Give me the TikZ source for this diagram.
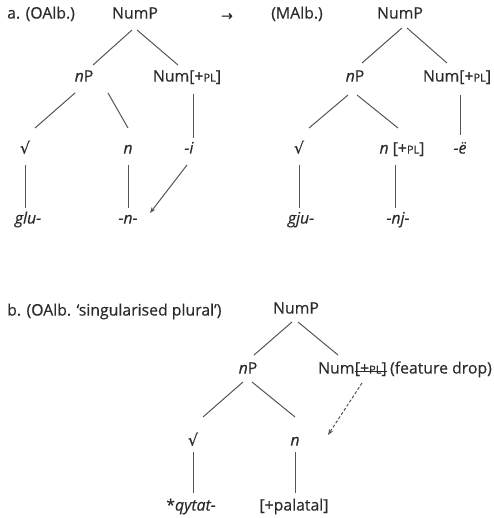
\documentclass[tikz,border=0pt]{standalone}
\usepackage{fontspec}
\setmainfont{Open Sans}[FakeBold=0.35]
\newfontfamily\symf{DejaVu Sans}[FakeBold=0.3]
\usetikzlibrary{calc,arrows.meta}
\definecolor{txt}{HTML}{2B2B2B}
\definecolor{ln}{HTML}{555555}
\newcommand{\plsc}{{\fontsize{11}{10}\selectfont PL}}
\newcommand{\rootsym}{{\symf √}}
\begin{document}
\begin{tikzpicture}[x=1pt,y=-1pt,
  lbl/.style={inner sep=0pt, text=txt, font=\fontsize{15.8}{17}\selectfont, text height=0.71em, text depth=0pt, anchor=center},
  edge/.style={draw=ln, line width=1pt},
  movearrow/.style={draw=ln, line width=1pt, -{Stealth[length=6pt,width=4.5pt]}},
  droparrow/.style={movearrow, dash pattern=on 3pt off 2pt},
  strike/.style={draw=txt, line width=0.8pt}]
\path[use as bounding box, fill=white] (0,0) rectangle (493,518);

% ---- a. (OAlb.)
\node[lbl, anchor=west] (labA) at (7,15) {a. (OAlb.)};
\node[lbl] (numpA) at (135,15) {NumP};
\node[lbl, font=\symf\fontsize{14}{14}\selectfont] (arrA) at (227,17) {→};
\node[lbl] (npA) at (84,78) {\textit{n}P};
\node[lbl] (numA) at (187,78) {Num[+\plsc]};
\node[lbl] (rootA) at (25,150) {\rootsym};
\node[lbl] (nA) at (128,150) {\textit{n}};
\node[lbl] (iA) at (189,150) {\textit{-i}};
\node[lbl] (gluA) at (28,220) {\textit{glu-}};
\node[lbl] (nnA) at (128,220) {\textit{-n-}};

\draw[edge] ($(numpA)+(-3,15)$) -- ($(npA)+(9,-13)$);
\draw[edge] ($(numpA)+(2,15)$) -- ($(numA)+(-9,-13)$);
\draw[edge] ($(npA)+(-9,15)$) -- ($(rootA)+(10,-22)$);
\draw[edge] ($(npA)+(24,15)$) -- ($(nA)+(0,-22)$);
\draw[edge] ($(numA)+(6,16)$) -- ($(iA)+(4,-12)$);
\draw[edge] ($(rootA)+(0,15)$) -- ($(gluA)+(-3,-12)$);
\draw[edge] ($(nA)+(0,15)$) -- ($(nnA)+(0,-12)$);
\draw[movearrow] ($(iA)+(-2,15)$) -- ($(nnA)+(22,-7)$);

% ---- (MAlb.)
\node[lbl] (labM) at (297,15) {(MAlb.)};
\node[lbl] (numpM) at (400,15) {NumP};
\node[lbl] (npM) at (355,78) {\textit{n}P};
\node[lbl] (numM) at (457,78) {Num[+\plsc]};
\node[lbl] (rootM) at (299,150) {\rootsym};
\node[lbl] (nM) at (402,150) {\textit{n} [+\plsc]};
\node[lbl] (eM) at (460,150) {\textit{-ë}};
\node[lbl] (gjuM) at (301,220) {\textit{gju-}};
\node[lbl] (njM) at (398,220) {\textit{-nj-}};

\draw[edge] ($(numpM)+(2,13)$) -- ($(npM)+(7,-15)$);
\draw[edge] ($(numpM)+(7,13)$) -- ($(numM)+(-10,-15)$);
\draw[edge] ($(npM)+(-7,17)$) -- ($(rootM)+(10,-22)$);
\draw[edge] ($(npM)+(2,17)$) -- ($(nM)+(-4,-22)$);
\draw[edge] ($(numM)+(3,17)$) -- ($(eM)+(0,-15)$);
\draw[edge] ($(rootM)+(0,15)$) -- ($(gjuM)+(-2,-12)$);
\draw[edge] ($(nM)+(-7,15)$) -- ($(njM)+(-3,-12)$);

% ---- b. (OAlb. 'singularised plural')
\node[lbl, anchor=west] (labB) at (7,312) {b. (OAlb. ‘singularised plural’)};
\node[lbl] (numpB) at (296,310) {NumP};
\node[lbl] (npB) at (248,370) {\textit{n}P};
\node[lbl, anchor=west] (numB) at (318,370) {Num};
\node[lbl, anchor=west] (strB) at (numB.east) {[+\plsc]};
\node[lbl, anchor=west] (dropB) at ([xshift=3pt]strB.east) {(feature drop)};
\node[lbl] (rootB) at (193,442) {\rootsym};
\node[lbl] (nB) at (295,442) {\textit{n}};
\node[lbl] (qB) at (191,507) {*\textit{qytat-}};
\node[lbl] (palB) at (294,507) {[+palatal]};
\draw[strike] ($(strB.west)+(0,1)$) -- ($(strB.east)+(0,1)$);

\draw[edge] ($(numpB)+(-4,12)$) -- ($(npB)+(6,-15)$);
\draw[edge] ($(numpB)+(2,12)$) -- ($(numB.west)+(20,-15)$);
\draw[edge] ($(npB)+(-5,12)$) -- ($(rootB)+(10,-25)$);
\draw[edge] ($(npB)+(4,12)$) -- ($(nB)+(0,-25)$);
\draw[edge] ($(rootB)+(0,10)$) -- ($(qB)+(2,-14)$);
\draw[edge] ($(nB)+(0,10)$) -- ($(palB)+(1,-14)$);
\draw[droparrow] ($(numB.west)+(44,13)$) -- ($(nB)+(33,-7)$);
\end{tikzpicture}
\end{document}
